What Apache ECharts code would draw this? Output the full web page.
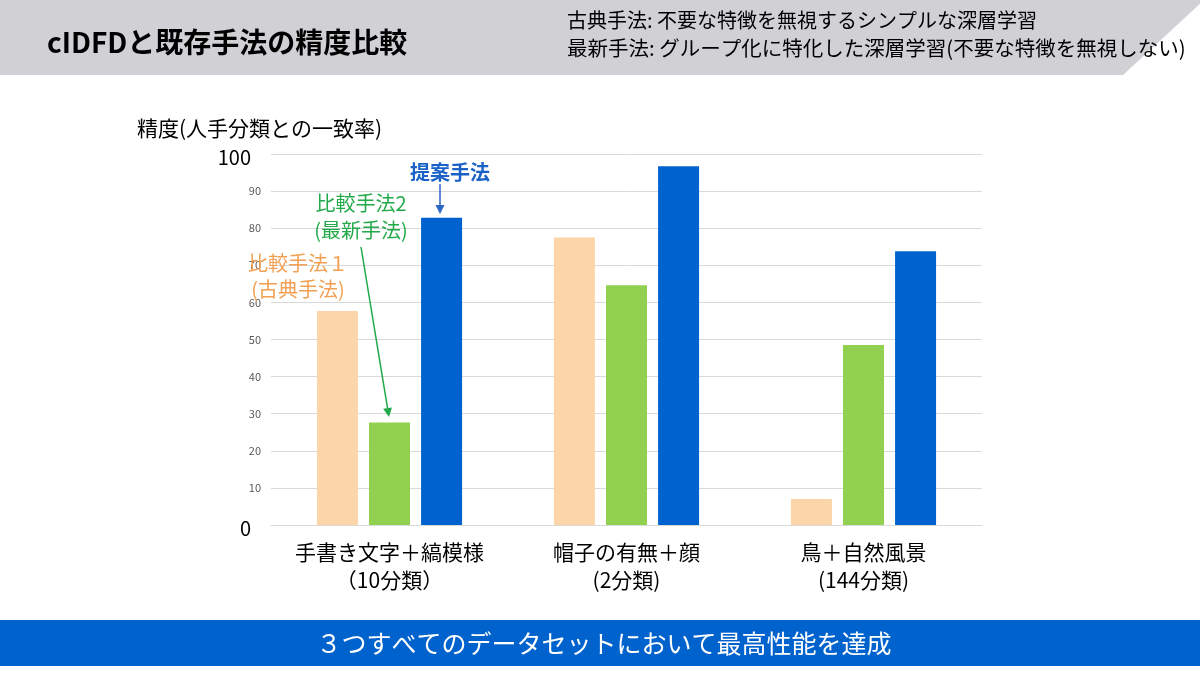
<!DOCTYPE html>
<html>
<head>
<meta charset="utf-8">
<script src="https://cdn.jsdelivr.net/npm/echarts@6/dist/echarts.min.js"></script>
<style>
html,body{margin:0;padding:0;background:#fff;}
#c{width:1200px;height:675px;}
</style>
</head>
<body>
<div id="c"></div>
<script>
const categories = ['手書き文字＋縞模様\n（10分類）', '帽子の有無＋顔\n(2分類)', '鳥＋自然風景\n(144分類)'];
const seriesNames = ['比較手法１(古典手法)', '比較手法2(最新手法)', '提案手法'];
const classicValues = [57.7, 77.5, 7.0];
const latestValues = [27.6, 64.6, 48.5];
const proposedValues = [82.8, 96.7, 73.8];
const yTicks = [0, 10, 20, 30, 40, 50, 60, 70, 80, 90, 100];

const FONT = '"Noto Sans CJK JP", "Noto Sans", sans-serif';
const chart = echarts.init(document.getElementById('c'), null, {renderer: 'canvas'});

function arrow(x1, y1, x2, y2, color, w) {
  const ang = Math.atan2(y2 - y1, x2 - x1);
  const L = 9, W = 4.5;
  const bx = x2 - L * Math.cos(ang), by = y2 - L * Math.sin(ang);
  const px = -Math.sin(ang) * W, py = Math.cos(ang) * W;
  return [
    {type: 'line', shape: {x1: x1, y1: y1, x2: bx, y2: by}, style: {stroke: color, lineWidth: w}, z: 100},
    {type: 'polygon', shape: {points: [[x2, y2], [bx + px, by + py], [bx - px, by - py]]}, style: {fill: color}, z: 100}
  ];
}

const graphics = [
  {type: 'polygon', shape: {points: [[0, 0], [1204, 0], [1123, 75], [0, 75]]}, style: {fill: '#d1d0d5'}, z: 1},
  {type: 'text', left: 47, top: 28, style: {text: 'cIDFDと既存手法の精度比較', font: 'bold 28px ' + FONT, fill: '#000'}, z: 2},
  {type: 'text', left: 567, top: 10, style: {text: '古典手法: 不要な特徴を無視するシンプルな深層学習', font: '20px ' + FONT, fill: '#000'}, z: 2},
  {type: 'text', left: 567, top: 38, style: {text: '最新手法: グループ化に特化した深層学習(不要な特徴を無視しない)', font: '20.5px ' + FONT, fill: '#000'}, z: 2},
  {type: 'text', left: 137, top: 118, style: {text: '精度(人手分類との一致率)', font: '21px ' + FONT, fill: '#000'}, z: 2},
  {type: 'rect', shape: {x: 0, y: 620, width: 1200, height: 46}, style: {fill: '#0062cc'}, z: 1},
  {type: 'text', x: 604, y: 643, style: {text: '３つすべてのデータセットにおいて最高性能を達成', font: '25px ' + FONT, fill: '#fff', align: 'center', verticalAlign: 'middle'}, z: 2},
  {type: 'text', x: 450, y: 172, style: {text: '提案手法', font: 'bold 20px ' + FONT, fill: '#1a62c8', align: 'center', verticalAlign: 'middle'}, z: 100},
  {type: 'text', x: 361, y: 203, style: {text: '比較手法2', font: '20px ' + FONT, fill: '#22aa4a', align: 'center', verticalAlign: 'middle'}, z: 100},
  {type: 'text', x: 361, y: 230, style: {text: '(最新手法)', font: '20px ' + FONT, fill: '#22aa4a', align: 'center', verticalAlign: 'middle'}, z: 100},
  {type: 'text', x: 298, y: 263, style: {text: '比較手法１', font: '20px ' + FONT, fill: '#f2a154', align: 'center', verticalAlign: 'middle'}, z: 100},
  {type: 'text', x: 298, y: 289, style: {text: '(古典手法)', font: '20px ' + FONT, fill: '#f2a154', align: 'center', verticalAlign: 'middle'}, z: 100}
].concat(arrow(440, 184, 440, 214, '#2a66c4', 1.5))
 .concat(arrow(361, 247, 389, 417, '#22aa4a', 1.5));

chart.setOption({
  animation: false,
  backgroundColor: '#fff',
  textStyle: {fontFamily: FONT},
  grid: {left: 271, right: 218, top: 154, bottom: 150},
  xAxis: {
    type: 'category',
    data: categories,
    axisLine: {lineStyle: {color: '#d9d9d9'}},
    axisTick: {show: false},
    axisLabel: {fontSize: 21, color: '#000', lineHeight: 28, margin: 13, fontFamily: FONT, interval: 0}
  },
  yAxis: {
    type: 'value',
    min: 0, max: 100, interval: 10,
    axisLine: {show: false},
    axisTick: {show: false},
    splitLine: {lineStyle: {color: '#d9d9d9', width: 1}},
    axisLabel: {
      margin: 10,
      formatter: function (v) {
        const t = yTicks.indexOf(v) >= 0 ? String(v) : '';
        return (v === 0 || v === 100) ? '{big|' + t + '}' : '{small|' + t + '}';
      },
      rich: {
        big: {fontSize: 20, color: '#000', padding: [6, 10, 0, 0], fontFamily: FONT},
        small: {fontSize: 11, color: '#595959', fontFamily: FONT}
      }
    }
  },
  series: [
    {name: seriesNames[0], type: 'bar', data: classicValues, barWidth: 41, barGap: '27%', itemStyle: {color: '#fcd5a8'}},
    {name: seriesNames[1], type: 'bar', data: latestValues, barWidth: 41, barGap: '27%', itemStyle: {color: '#92d050'}},
    {name: seriesNames[2], type: 'bar', data: proposedValues, barWidth: 41, barGap: '27%', itemStyle: {color: '#0062cf'}}
  ],
  graphic: graphics
});
</script>
</body>
</html>
